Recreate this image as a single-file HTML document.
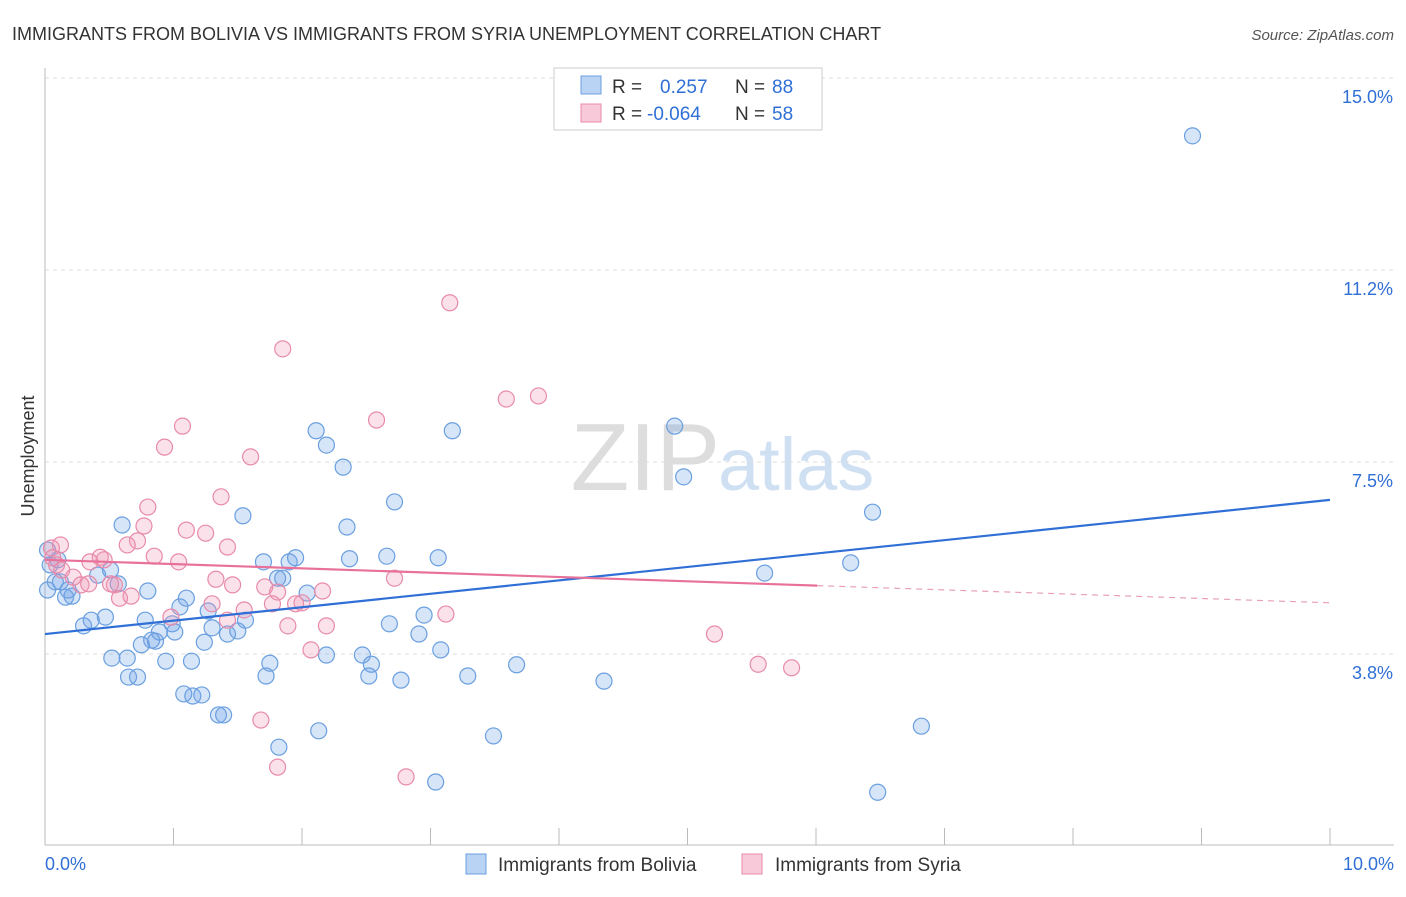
<!DOCTYPE html>
<html><head><meta charset="utf-8">
<style>
body{margin:0;background:#fff;font-family:"Liberation Sans",sans-serif;}
svg text{font-family:"Liberation Sans",sans-serif;}
</style></head>
<body>
<svg id="chart" width="1406" height="892" viewBox="0 0 1406 892">
<text x="12" y="40" font-size="18" fill="#333">IMMIGRANTS FROM BOLIVIA VS IMMIGRANTS FROM SYRIA UNEMPLOYMENT CORRELATION CHART</text>
<text x="1394" y="40" font-size="15" fill="#555" font-style="italic" text-anchor="end">Source: ZipAtlas.com</text>
<text x="720" y="490" font-size="96" fill="#ddd" text-anchor="end" font-family="Liberation Serif">ZIP</text>
<text x="718" y="490" font-size="74" fill="#cfe0f3">atlas</text>
<text x="34" y="456" font-size="18" fill="#333" text-anchor="middle" transform="rotate(-90 34 456)">Unemployment</text>
<g id="grid"></g>
<g id="axes"></g>
<g id="points"></g>
<g id="trends"></g>
<g>
<rect x="554" y="68" width="268" height="62" fill="#fff" stroke="#ccc"/>
<rect x="581" y="76" width="20" height="18" fill="#b9d3f5" stroke="#6a9fe0"/>
<text x="612" y="93" font-size="19" fill="#333">R = </text><text x="660" y="93" font-size="19" fill="#2f6fd6">0.257</text>
<text x="735" y="93" font-size="19" fill="#333">N = </text><text x="772" y="93" font-size="19" fill="#2f6fd6">88</text>
<rect x="581" y="104" width="20" height="18" fill="#f8c9d8" stroke="#e88aaa"/>
<text x="612" y="120" font-size="19" fill="#333">R = </text><text x="647" y="120" font-size="19" fill="#2f6fd6">-0.064</text>
<text x="735" y="120" font-size="19" fill="#333">N = </text><text x="772" y="120" font-size="19" fill="#2f6fd6">58</text>
</g>
<g>
<rect x="466" y="854" width="20" height="20" fill="#b9d3f5" stroke="#6a9fe0"/>
<text x="498" y="871" font-size="19" fill="#333">Immigrants from Bolivia</text>
<rect x="742" y="854" width="20" height="20" fill="#f8c9d8" stroke="#e88aaa"/>
<text x="775" y="871" font-size="19" fill="#333">Immigrants from Syria</text>
</g>
</svg>
<script>
const yTicks=[3.75,7.5,11.25,15];
const yTickLabels=["3.8%","7.5%","11.2%","15.0%"];
const xTickLabels=["0.0%","10.0%"];
const boliviaX=[8.93,4.90,4.97,6.44,6.27,5.60,2.11,2.19,2.32,3.17,2.72,2.35,1.54,0.60,1.70,1.95,1.90,2.37,2.66,3.06,1.81,1.85,2.04,0.51,0.41,0.57,0.80,1.10,1.05,1.27,0.36,0.47,0.12,0.18,0.21,0.16,0.04,0.08,0.30,0.78,0.99,0.89,1.01,1.30,1.42,1.50,1.56,0.83,0.94,0.86,0.75,1.24,1.14,0.52,0.64,0.65,0.72,1.75,1.72,2.19,2.47,2.54,2.52,2.77,2.68,2.95,2.91,3.08,3.29,3.67,4.35,1.08,1.15,1.22,1.35,1.39,1.82,2.13,3.49,3.04,6.48,6.82,0.10,0.02,0.02];
const boliviaY=[13.87,8.20,7.21,6.52,5.53,5.33,8.11,7.83,7.40,8.11,6.72,6.23,6.45,6.27,5.55,5.63,5.55,5.61,5.66,5.63,5.23,5.23,4.94,5.39,5.29,5.12,4.98,4.84,4.67,4.59,4.41,4.47,5.16,5.00,4.88,4.86,5.49,5.16,4.30,4.41,4.34,4.18,4.18,4.26,4.14,4.20,4.41,4.02,3.61,4.00,3.93,3.98,3.61,3.67,3.67,3.30,3.30,3.57,3.32,3.73,3.73,3.55,3.32,3.24,4.34,4.51,4.14,3.83,3.32,3.54,3.22,2.97,2.93,2.95,2.56,2.56,1.93,2.25,2.15,1.25,1.05,2.34,5.59,5.78,5.00];
const syriaX=[3.15,1.85,3.59,3.84,2.58,1.07,0.93,1.60,1.37,0.80,0.77,1.10,1.25,0.72,0.64,1.42,0.85,0.43,0.46,1.04,0.35,0.05,0.06,0.09,0.22,0.28,0.54,0.51,1.33,1.46,1.71,1.81,2.16,2.72,0.58,0.67,1.30,1.55,1.77,2.00,1.95,0.98,1.42,1.89,2.19,3.12,5.21,5.55,5.81,2.07,1.68,1.81,2.81,0.12,0.13,0.34];
const syriaY=[10.61,9.71,8.73,8.79,8.32,8.20,7.79,7.60,6.82,6.62,6.25,6.17,6.11,5.96,5.88,5.84,5.66,5.64,5.59,5.55,5.55,5.82,5.63,5.49,5.25,5.10,5.10,5.12,5.21,5.10,5.06,4.96,4.98,5.23,4.84,4.88,4.73,4.61,4.73,4.75,4.73,4.47,4.41,4.30,4.30,4.53,4.14,3.55,3.48,3.83,2.46,1.54,1.35,5.88,5.39,5.12];
const boliviaTrend=[4.14,6.76];
const syriaTrend=[5.59,4.75];
const syriaSolidEnd=6.01;
const NS="http://www.w3.org/2000/svg";
const X=v=>45+v*128.5, Y=v=>654-(v-3.75)*51.2;
function mk(tag,attrs,parent){const e=document.createElementNS(NS,tag);for(const k in attrs)e.setAttribute(k,attrs[k]);document.getElementById(parent).appendChild(e);return e;}
yTicks.forEach((t,i)=>{
 const l=mk('line',{x1:45,x2:1394,y1:Y(t),y2:Y(t),stroke:'#ddd','stroke-dasharray':'4,4'},'grid');
 
 
 const tx=mk('text',{x:1393,y:Y(t)+25,'font-size':18,fill:'#2f6fd6','text-anchor':'end'},'grid');
 tx.textContent=yTickLabels[i];
 
 
});
const ax=mk('line',{x1:45,x2:45,y1:68,y2:845,stroke:'#bbb'},'axes');


const bx=mk('line',{x1:45,x2:1394,y1:845,y2:845,stroke:'#bbb'},'axes');


for(let k=1;k<=10;k++){
 const t=mk('line',{x1:X(k),x2:X(k),y1:828,y2:845,stroke:'#bbb'},'axes');
 
 
}
[[0,'start',45],[10,'end',1394]].forEach((d,i)=>{
 const t=mk('text',{x:d[2],y:870,'font-size':18,fill:'#2f6fd6','text-anchor':d[1]},'axes');
 t.textContent=xTickLabels[i];
 
 
});
function pts(xs,ys,fill,stroke,name){xs.forEach((x,i)=>{
 const c=mk('circle',{cx:X(x),cy:Y(ys[i]),r:8,fill:fill,stroke:stroke,'stroke-width':1.2},'points');
 
 
});}
pts(boliviaX,boliviaY,'rgba(110,160,230,0.28)','#6a9fe0','bolivia-point');
pts(syriaX,syriaY,'rgba(240,150,180,0.28)','#e88aaa','syria-point');
const bl=mk('line',{x1:X(0),y1:Y(boliviaTrend[0]),x2:X(10),y2:Y(boliviaTrend[1]),stroke:'#2f6fd6','stroke-width':2.2},'trends');


const sAt=v=>syriaTrend[0]+(syriaTrend[1]-syriaTrend[0])*v/10;
const sl=mk('line',{x1:X(0),y1:Y(sAt(0)),x2:X(syriaSolidEnd),y2:Y(sAt(syriaSolidEnd)),stroke:'#e8719a','stroke-width':2.2},'trends');


const sd=mk('line',{x1:X(syriaSolidEnd),y1:Y(sAt(syriaSolidEnd)),x2:X(10),y2:Y(sAt(10)),stroke:'#e8a0b8','stroke-width':1.2,'stroke-dasharray':'6,5'},'trends');


</script>
</body></html>
